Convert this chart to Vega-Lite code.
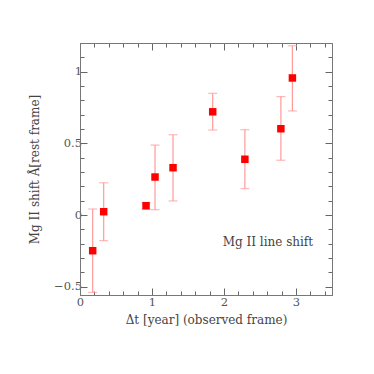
{
  "$schema": "https://vega.github.io/schema/vega-lite/v6.json",
  "autosize": {"type": "none"},
  "width": 252,
  "height": 252,
  "padding": {"left": 80, "top": 43, "right": 42, "bottom": 79},
  "background": "white",
  "config": {
    "view": {"stroke": "#777", "strokeWidth": 1},
    "axis": {
      "labelFont": "DejaVu Serif",
      "titleFont": "DejaVu Serif",
      "labelFontSize": 11.5,
      "titleFontSize": 12,
      "titleFontWeight": "normal",
      "labelColor": "#555",
      "titleColor": "#444",
      "domainColor": "#777",
      "tickColor": "#666",
      "tickWidth": 1,
      "grid": false
    }
  },
  "data": {
    "values": [
      {"t": 0.176, "s": -0.249, "lo": -0.54, "hi": 0.042},
      {"t": 0.329, "s": 0.023, "lo": -0.179, "hi": 0.225},
      {"t": 0.917, "s": 0.065, "lo": 0.04, "hi": 0.086},
      {"t": 1.042, "s": 0.265, "lo": 0.037, "hi": 0.488},
      {"t": 1.292, "s": 0.33, "lo": 0.098, "hi": 0.56},
      {"t": 1.843, "s": 0.72, "lo": 0.593, "hi": 0.849},
      {"t": 2.29, "s": 0.389, "lo": 0.184, "hi": 0.595},
      {"t": 2.79, "s": 0.602, "lo": 0.382, "hi": 0.826},
      {"t": 2.95, "s": 0.956, "lo": 0.726, "hi": 1.181}
    ]
  },
  "resolve": {"axis": {"x": "independent", "y": "independent"}},
  "layer": [
    {
      "mark": {"type": "rule", "color": "#ff9a9a", "strokeWidth": 1.2},
      "encoding": {
        "x": {"field": "t", "type": "quantitative", "scale": {"domain": [0, 3.5], "nice": false},
          "axis": {"orient": "bottom", "title": "Δt [year] (observed frame)", "format": "~g",
            "values": [0,0.2,0.4,0.6,0.8,1,1.2,1.4,1.6,1.8,2,2.2,2.4,2.6,2.8,3,3.2,3.4],
            "labelExpr": "datum.value % 1 === 0 ? datum.label : ''",
            "tickSize": {"condition": {"test": "datum.value % 1 === 0", "value": -7}, "value": -4},
            "labelAlign": "center", "labelBaseline": "top",
            "labelPadding": 8.5, "titlePadding": 3, "labelFlush": false, "labelOverlap": false}},
        "y": {"field": "lo", "type": "quantitative", "scale": {"domain": [-0.558, 1.2], "nice": false},
          "axis": {"orient": "left", "title": "Mg II shift Å[rest frame]", "format": "~g",
            "values": [-0.5,-0.4,-0.3,-0.2,-0.1,0,0.1,0.2,0.3,0.4,0.5,0.6,0.7,0.8,0.9,1,1.1],
            "labelExpr": "abs(datum.value*2 - round(datum.value*2)) < 0.001 ? datum.label : ''",
            "tickSize": {"condition": {"test": "abs(datum.value*2 - round(datum.value*2)) < 0.001", "value": -7}, "value": -4},
            "labelAlign": "right", "labelBaseline": "middle",
            "labelPadding": 5.5, "titlePadding": 12, "labelFlush": false, "labelOverlap": false}},
        "y2": {"field": "hi"}
      }
    },
    {
      "mark": {"type": "tick", "color": "#ff9a9a", "orient": "horizontal", "size": 9, "thickness": 1.2},
      "encoding": {
        "x": {"field": "t", "type": "quantitative", "scale": {"domain": [0, 3.5], "nice": false},
          "axis": {"orient": "top", "title": null, "labels": false,
            "values": [0,0.2,0.4,0.6,0.8,1,1.2,1.4,1.6,1.8,2,2.2,2.4,2.6,2.8,3,3.2,3.4],
            "tickSize": {"condition": {"test": "datum.value % 1 === 0", "value": -7}, "value": -4}}},
        "y": {"field": "hi", "type": "quantitative", "scale": {"domain": [-0.558, 1.2], "nice": false},
          "axis": {"orient": "right", "title": null, "labels": false,
            "values": [-0.5,-0.4,-0.3,-0.2,-0.1,0,0.1,0.2,0.3,0.4,0.5,0.6,0.7,0.8,0.9,1,1.1],
            "tickSize": {"condition": {"test": "abs(datum.value*2 - round(datum.value*2)) < 0.001", "value": -7}, "value": -4}}}
      }
    },
    {
      "mark": {"type": "tick", "color": "#ff9a9a", "orient": "horizontal", "size": 9, "thickness": 1.2},
      "encoding": {
        "x": {"field": "t", "type": "quantitative", "scale": {"domain": [0, 3.5], "nice": false}, "axis": null},
        "y": {"field": "lo", "type": "quantitative", "scale": {"domain": [-0.558, 1.2], "nice": false}, "axis": null}
      }
    },
    {
      "mark": {"type": "square", "color": "#ff0000", "opacity": 1, "filled": true, "size": 56},
      "encoding": {
        "x": {"field": "t", "type": "quantitative", "scale": {"domain": [0, 3.5], "nice": false}, "axis": null},
        "y": {"field": "s", "type": "quantitative", "scale": {"domain": [-0.558, 1.2], "nice": false}, "axis": null}
      }
    },
    {
      "data": {"values": [{"t": 2.61, "s": -0.19, "label": "Mg II line shift"}]},
      "mark": {"type": "text", "font": "DejaVu Serif", "fontSize": 12, "color": "#444", "align": "center", "baseline": "middle"},
      "encoding": {
        "x": {"field": "t", "type": "quantitative", "scale": {"domain": [0, 3.5], "nice": false}, "axis": null},
        "y": {"field": "s", "type": "quantitative", "scale": {"domain": [-0.558, 1.2], "nice": false}, "axis": null},
        "text": {"field": "label"}
      }
    }
  ]
}
